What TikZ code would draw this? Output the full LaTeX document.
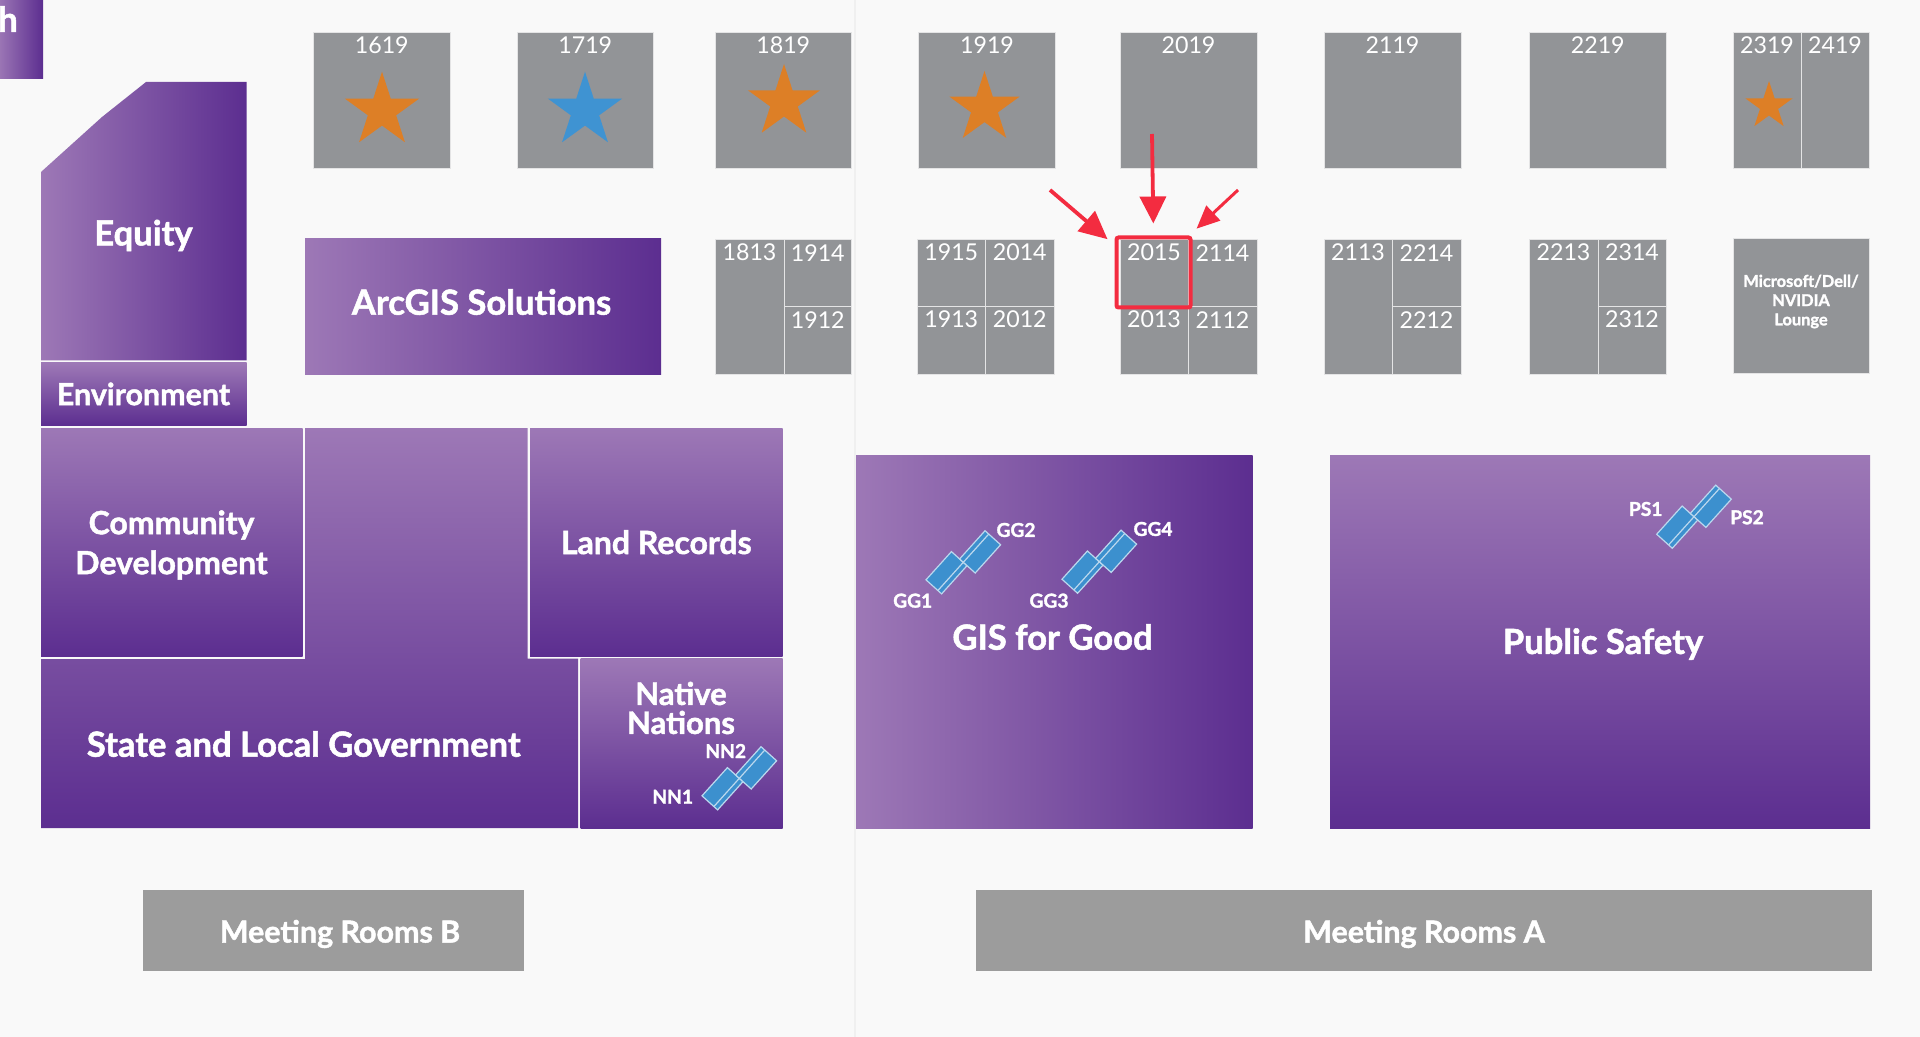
\documentclass[tikz,border=0pt]{standalone}
\usepackage{fontspec}
\setmainfont{Lato}[BoldFeatures={FakeBold=1.5}]
\usetikzlibrary{arrows.meta,shapes.geometric}
\definecolor{pagebg}{HTML}{F9F9F9}
\definecolor{divline}{HTML}{F0F0F0}
\definecolor{boothgray}{HTML}{929497}
\definecolor{roomgray}{HTML}{9C9C9C}
\definecolor{purplelight}{HTML}{9D78B6}
\definecolor{purpledark}{HTML}{5C2E90}
\definecolor{staror}{HTML}{DD7F26}
\definecolor{starbl}{HTML}{3F93D2}
\definecolor{kioskbl}{HTML}{3C90CE}
\definecolor{markred}{HTML}{F32C40}
\tikzset{
  x=0.5pt, y=-0.5pt,
  booth/.style={rectangle, fill=boothgray, draw=white!75!boothgray, line width=0.4pt, inner sep=0pt},
  boothnum/.style={text=white, font=\fontsize{11.6}{13}\selectfont, inner sep=0pt, anchor=center, yshift=-7pt},
  hgrad/.style={rectangle, left color=purplelight, right color=purpledark, inner sep=0pt, text=white, align=center},
  vgrad/.style={rectangle, top color=purplelight, bottom color=purpledark, inner sep=0pt, text=white, align=center},
  title/.style={text=white, align=center, inner sep=0pt, font=\fontsize{17.3}{20}\selectfont\bfseries},
  subtitle/.style={title, font=\fontsize{16}{20}\selectfont\bfseries},
  midtitle/.style={title, font=\fontsize{15.2}{16}\selectfont\bfseries},
  kiosklabel/.style={text=white, inner sep=0pt, font=\fontsize{9.6}{11}\selectfont\bfseries},
  kioskpart/.style={fill=kioskbl, draw=white!65!kioskbl, line width=0.6pt},
  redarrow/.style={draw=markred, line width=1.9pt},
}
% booth cell: name, x1, y1, x2, y2
\newcommand{\cell}[5]{
  \node[booth, minimum width={(#4-#2)*0.5pt}, minimum height={(#5-#3)*0.5pt},
        label={[boothnum]north:#1}] (b#1) at ({(#2+#4)/2},{(#3+#5)/2}) {};
}
% room block: style, name, x1, y1, x2, y2, text
\newcommand{\room}[7]{
  \node[#1, minimum width={(#5-#3)*0.5pt}, minimum height={(#6-#4)*0.5pt}] (#2) at ({(#3+#5)/2},{(#4+#6)/2}) {#7};
}
\newcommand{\kiosk}[2]{
  \begin{scope}[shift={(#1,#2)}, rotate=48]
    \fill[kioskpart] (-38,-16) rectangle (0,5);
    \fill[kioskpart] (0,-5) rectangle (38,16);
    \draw[white!65!kioskbl, line width=0.6pt] (-38,0) -- (38,0);
  \end{scope}
}
\newcommand{\staricon}[5]{
  \node[star, star points=5, star point ratio=2.618, inner sep=0pt, minimum size=#4*1pt, fill=#5] (#1) at (#2,#3) {};
}
\begin{document}
\begin{tikzpicture}
  \useasboundingbox[fill=pagebg] (0,0) rectangle (1920,1037);
  \coordinate (divtop) at (855,0);
  \coordinate (divbot) at (855,1037);
  \draw[divline, line width=1.2pt] (divtop) -- (divbot);

  % left column
  \room{hgrad}{corner}{-2}{0}{43}{79}{}
  \node[title] (cornertext) at (8,19) {h};
  \shade[left color=purplelight, right color=purpledark]
    (41,172) -- (102,117) -- (146,82) -- (246.5,82) -- (246.5,360.5) -- (41,360.5) -- cycle;
  \node[title] (equity) at (143.5,235.5) {Equity};
  \room{vgrad}{environment}{41}{363}{246.5}{425.5}{}
  \node[midtitle] (environmenttext) at (143.5,394) {Environment};
  \room{hgrad}{arcgis}{305}{239}{661}{374}{}
  \node[title] (arcgistext) at (481.5,302) {ArcGIS Solutions};

  % vertical blocks
  \room{vgrad}{community}{41}{428}{302.5}{656.5}{}
  \node[subtitle] (communitytext) at (171.5,545) {Community\\Development};
  \shade[top color=purplelight, bottom color=purpledark]
    (305,428) -- (527.5,428) -- (527.5,658.5) -- (578,658.5) -- (578,828) -- (41,828) -- (41,659) -- (305,659) -- cycle;
  \node[title] (government) at (303.7,744) {State and Local Government};
  \room{vgrad, subtitle}{land}{530}{428}{782.5}{656.5}{Land Records}
  \room{vgrad}{native}{580.5}{658.5}{782.5}{828}{}
  \node[title, font=\fontsize{15.5}{14.5}\selectfont\bfseries] (nativetext) at (681,708) {Native\\Nations};
  \room{hgrad}{good}{856}{455.5}{1252.5}{828}{}
  \node[title] (goodtext) at (1052.5,637) {GIS for Good};
  \room{vgrad}{safety}{1330}{455.5}{1870}{828}{}
  \node[title] (safetytext) at (1603,644) {Public Safety};

  % meeting rooms
  \room{rectangle, fill=roomgray}{roomsb}{143}{890}{524}{971}{}
  \node[midtitle] (roomsbtext) at (340,934) {Meeting Rooms B};
  \room{rectangle, fill=roomgray}{roomsa}{976}{890}{1872}{971}{}
  \node[midtitle] (roomsatext) at (1424,934) {Meeting Rooms A};

  % top row of booths
  \cell{1619}{313.5}{32}{450}{168}
  \cell{1719}{517}{32}{653.5}{168}
  \cell{1819}{715}{32}{851.5}{168}
  \cell{1919}{918.5}{32}{1055.5}{168}
  \cell{2019}{1120}{32}{1257}{168}
  \cell{2119}{1324}{32}{1461}{168}
  \cell{2219}{1529}{32}{1666.5}{168}
  \cell{2319}{1733}{32}{1801}{168}
  \cell{2419}{1801}{32}{1869}{168}

  % second row of booths
  \cell{1813}{715}{239}{784}{374}
  \cell{1914}{784}{239}{851.5}{306}
  \cell{1912}{784}{306}{851.5}{374}
  \cell{1915}{917}{239}{985.5}{306}
  \cell{2014}{985.5}{239}{1054}{306}
  \cell{1913}{917}{306}{985.5}{374}
  \cell{2012}{985.5}{306}{1054}{374}
  \cell{2015}{1120}{239}{1188}{306}
  \cell{2114}{1188}{239}{1257}{306}
  \cell{2013}{1120}{306}{1188}{374}
  \cell{2112}{1188}{306}{1257}{374}
  \cell{2113}{1324}{239}{1392}{374}
  \cell{2214}{1392}{239}{1461}{306}
  \cell{2212}{1392}{306}{1461}{374}
  \cell{2213}{1529}{239}{1598}{374}
  \cell{2314}{1598}{239}{1666}{306}
  \cell{2312}{1598}{306}{1666}{374}
  \node[booth, minimum width=68pt, minimum height=67.5pt] (lounge) at (1801,305.5) {};
  \node[text=white, align=center, inner sep=0pt,
        font=\fontsize{8.2}{9.6}\selectfont\bfseries] (loungetext) at (1801,301.5) {Microsoft/Dell/\\NVIDIA\\Lounge};

  % stars
  \staricon{star1619}{382}{110.7}{39}{staror}
  \staricon{star1719}{585}{110.7}{39}{starbl}
  \staricon{star1819}{784}{102}{38}{staror}
  \staricon{star1919}{984.5}{108}{37}{staror}
  \staricon{star2319}{1769}{106}{25}{staror}

  % kiosks
  \kiosk{963.3}{562.3}
  \kiosk{1099.3}{561.7}
  \kiosk{1694}{516.7}
  \kiosk{739.3}{778.3}
  \node[kiosklabel] (gg1) at (912.7,600.7) {GG1};
  \node[kiosklabel] (gg2) at (1016,530) {GG2};
  \node[kiosklabel] (gg3) at (1049,600.7) {GG3};
  \node[kiosklabel] (gg4) at (1153,529) {GG4};
  \node[kiosklabel] (ps1) at (1645.7,509) {PS1};
  \node[kiosklabel] (ps2) at (1747,517.3) {PS2};
  \node[kiosklabel] (nn1) at (672.7,796.7) {NN1};
  \node[kiosklabel] (nn2) at (725.7,751) {NN2};

  % highlight on 2015
  \node[rectangle, draw=markred, line width=2pt, rounded corners=1pt, inner sep=0pt,
        minimum width=37pt, minimum height=35pt] (sel) at (1153.5,272.5) {};
  \coordinate (arrowleft) at (1050,190);
  \coordinate (arrowtop) at (1152,134);
  \coordinate (arrowright) at (1238,190);
  \draw[redarrow, shorten >=4.6pt, -{Triangle[length=14pt,width=13pt]}] (arrowleft) -- (sel.145);
  \draw[redarrow, shorten >=6pt, -{Triangle[length=13.5pt,width=13pt]}] (arrowtop) -- (sel.north);
  \draw[redarrow, line width=1.5pt, shorten >=5pt, -{Triangle[length=11.5pt,width=10pt]}] (arrowright) -- (sel.46);
\end{tikzpicture}
\end{document}
